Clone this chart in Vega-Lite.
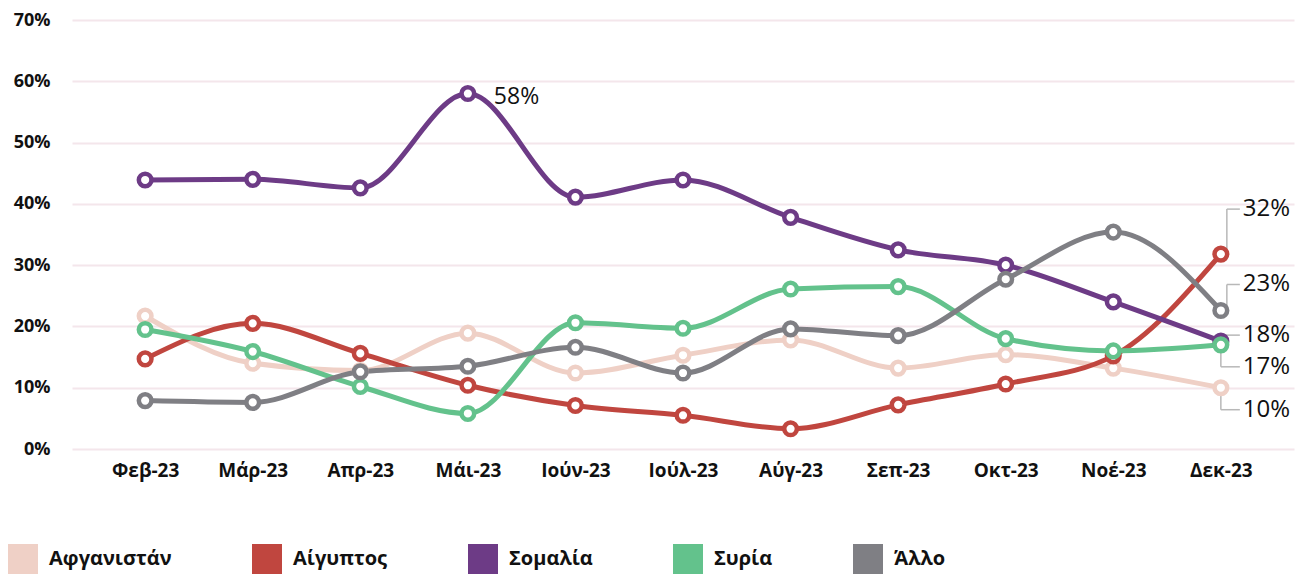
{
  "$schema": "https://vega.github.io/schema/vega-lite/v6.json",
  "width": 1222,
  "height": 429,
  "autosize": {"type": "none"},
  "padding": {"left": 72, "top": 20, "right": 12, "bottom": 125},
  "background": "white",
  "config": {
    "font": "Open Sans",
    "view": {"stroke": null}
  },
  "data": {
    "values": [
      {"month": "Φεβ-23", "series": "Αφγανιστάν", "value": 0.217},
      {"month": "Μάρ-23", "series": "Αφγανιστάν", "value": 0.140},
      {"month": "Απρ-23", "series": "Αφγανιστάν", "value": 0.128},
      {"month": "Μάι-23", "series": "Αφγανιστάν", "value": 0.189},
      {"month": "Ιούν-23", "series": "Αφγανιστάν", "value": 0.124},
      {"month": "Ιούλ-23", "series": "Αφγανιστάν", "value": 0.153},
      {"month": "Αύγ-23", "series": "Αφγανιστάν", "value": 0.178},
      {"month": "Σεπ-23", "series": "Αφγανιστάν", "value": 0.132},
      {"month": "Οκτ-23", "series": "Αφγανιστάν", "value": 0.154},
      {"month": "Νοέ-23", "series": "Αφγανιστάν", "value": 0.132},
      {"month": "Δεκ-23", "series": "Αφγανιστάν", "value": 0.100},
      {"month": "Φεβ-23", "series": "Αίγυπτος", "value": 0.147},
      {"month": "Μάρ-23", "series": "Αίγυπτος", "value": 0.205},
      {"month": "Απρ-23", "series": "Αίγυπτος", "value": 0.156},
      {"month": "Μάι-23", "series": "Αίγυπτος", "value": 0.104},
      {"month": "Ιούν-23", "series": "Αίγυπτος", "value": 0.071},
      {"month": "Ιούλ-23", "series": "Αίγυπτος", "value": 0.055},
      {"month": "Αύγ-23", "series": "Αίγυπτος", "value": 0.033},
      {"month": "Σεπ-23", "series": "Αίγυπτος", "value": 0.072},
      {"month": "Οκτ-23", "series": "Αίγυπτος", "value": 0.106},
      {"month": "Νοέ-23", "series": "Αίγυπτος", "value": 0.152},
      {"month": "Δεκ-23", "series": "Αίγυπτος", "value": 0.318},
      {"month": "Φεβ-23", "series": "Σομαλία", "value": 0.439},
      {"month": "Μάρ-23", "series": "Σομαλία", "value": 0.440},
      {"month": "Απρ-23", "series": "Σομαλία", "value": 0.426},
      {"month": "Μάι-23", "series": "Σομαλία", "value": 0.580},
      {"month": "Ιούν-23", "series": "Σομαλία", "value": 0.411},
      {"month": "Ιούλ-23", "series": "Σομαλία", "value": 0.439},
      {"month": "Αύγ-23", "series": "Σομαλία", "value": 0.378},
      {"month": "Σεπ-23", "series": "Σομαλία", "value": 0.325},
      {"month": "Οκτ-23", "series": "Σομαλία", "value": 0.300},
      {"month": "Νοέ-23", "series": "Σομαλία", "value": 0.240},
      {"month": "Δεκ-23", "series": "Σομαλία", "value": 0.176},
      {"month": "Φεβ-23", "series": "Συρία", "value": 0.195},
      {"month": "Μάρ-23", "series": "Συρία", "value": 0.159},
      {"month": "Απρ-23", "series": "Συρία", "value": 0.102},
      {"month": "Μάι-23", "series": "Συρία", "value": 0.058},
      {"month": "Ιούν-23", "series": "Συρία", "value": 0.206},
      {"month": "Ιούλ-23", "series": "Συρία", "value": 0.197},
      {"month": "Αύγ-23", "series": "Συρία", "value": 0.261},
      {"month": "Σεπ-23", "series": "Συρία", "value": 0.265},
      {"month": "Οκτ-23", "series": "Συρία", "value": 0.180},
      {"month": "Νοέ-23", "series": "Συρία", "value": 0.160},
      {"month": "Δεκ-23", "series": "Συρία", "value": 0.170},
      {"month": "Φεβ-23", "series": "Άλλο", "value": 0.079},
      {"month": "Μάρ-23", "series": "Άλλο", "value": 0.076},
      {"month": "Απρ-23", "series": "Άλλο", "value": 0.126},
      {"month": "Μάι-23", "series": "Άλλο", "value": 0.135},
      {"month": "Ιούν-23", "series": "Άλλο", "value": 0.166},
      {"month": "Ιούλ-23", "series": "Άλλο", "value": 0.124},
      {"month": "Αύγ-23", "series": "Άλλο", "value": 0.196},
      {"month": "Σεπ-23", "series": "Άλλο", "value": 0.185},
      {"month": "Οκτ-23", "series": "Άλλο", "value": 0.277},
      {"month": "Νοέ-23", "series": "Άλλο", "value": 0.354},
      {"month": "Δεκ-23", "series": "Άλλο", "value": 0.226}
    ]
  },
  "encoding": {
    "x": {
      "field": "month",
      "type": "ordinal",
      "sort": ["Φεβ-23", "Μάρ-23", "Απρ-23", "Μάι-23", "Ιούν-23", "Ιούλ-23", "Αύγ-23", "Σεπ-23", "Οκτ-23", "Νοέ-23", "Δεκ-23"],
      "scale": {"type": "point", "padding": 0.68},
      "axis": {
        "title": null,
        "domain": false,
        "ticks": false,
        "labelAngle": 0,
        "labelFont": "Open Sans",
        "labelFontWeight": "bold",
        "labelFontSize": 19,
        "labelColor": "#111111",
        "labelPadding": 12
      }
    },
    "y": {
      "field": "value",
      "type": "quantitative",
      "scale": {"domain": [0, 0.7], "nice": false},
      "axis": {
        "title": null,
        "format": ".0%",
        "values": [0, 0.1, 0.2, 0.3, 0.4, 0.5, 0.6, 0.7],
        "domain": false,
        "ticks": false,
        "grid": true,
        "gridColor": "#f4e6eb",
        "gridWidth": 2,
        "labelFont": "Open Sans",
        "labelFontWeight": "bold",
        "labelFontSize": 18,
        "labelColor": "#111111",
        "labelPadding": 22
      }
    }
  },
  "layer": [
    {
      "transform": [{"filter": "datum.month === 'Δεκ-23' && datum.series === 'Αίγυπτος'"}],
      "layer": [
        {"mark": {"type": "rule", "color": "#b8b8b8", "strokeWidth": 1.5, "xOffset": 6, "y2Offset": -45}, "encoding": {"y2": {"field": "value"}}},
        {"mark": {"type": "rule", "color": "#b8b8b8", "strokeWidth": 1.5, "xOffset": 6, "x2Offset": 19, "yOffset": -45}, "encoding": {"x2": {"field": "month"}}},
        {"mark": {"type": "text", "align": "left", "baseline": "middle", "dx": 22, "dy": -45, "fontSize": 24, "font": "Open Sans", "color": "#111111"}, "encoding": {"text": {"field": "value", "type": "quantitative", "format": ".0%"}}}
      ]
    },
    {
      "transform": [{"filter": "datum.month === 'Δεκ-23' && datum.series === 'Άλλο'"}],
      "layer": [
        {"mark": {"type": "rule", "color": "#b8b8b8", "strokeWidth": 1.5, "xOffset": 6, "y2Offset": -26}, "encoding": {"y2": {"field": "value"}}},
        {"mark": {"type": "rule", "color": "#b8b8b8", "strokeWidth": 1.5, "xOffset": 6, "x2Offset": 19, "yOffset": -26}, "encoding": {"x2": {"field": "month"}}},
        {"mark": {"type": "text", "align": "left", "baseline": "middle", "dx": 22, "dy": -26, "fontSize": 24, "font": "Open Sans", "color": "#111111"}, "encoding": {"text": {"field": "value", "type": "quantitative", "format": ".0%"}}}
      ]
    },
    {
      "transform": [{"filter": "datum.month === 'Δεκ-23' && datum.series === 'Σομαλία'"}],
      "layer": [
        {"mark": {"type": "rule", "color": "#b8b8b8", "strokeWidth": 1.5, "x2Offset": 19, "yOffset": -6}, "encoding": {"x2": {"field": "month"}}},
        {"mark": {"type": "text", "align": "left", "baseline": "middle", "dx": 22, "dy": -6, "fontSize": 24, "font": "Open Sans", "color": "#111111"}, "encoding": {"text": {"field": "value", "type": "quantitative", "format": ".0%"}}}
      ]
    },
    {
      "transform": [{"filter": "datum.month === 'Δεκ-23' && datum.series === 'Συρία'"}],
      "layer": [
        {"mark": {"type": "rule", "color": "#b8b8b8", "strokeWidth": 1.5, "xOffset": 0, "y2Offset": 22}, "encoding": {"y2": {"field": "value"}}},
        {"mark": {"type": "rule", "color": "#b8b8b8", "strokeWidth": 1.5, "xOffset": 0, "x2Offset": 19, "yOffset": 22}, "encoding": {"x2": {"field": "month"}}},
        {"mark": {"type": "text", "align": "left", "baseline": "middle", "dx": 22, "dy": 22, "fontSize": 24, "font": "Open Sans", "color": "#111111"}, "encoding": {"text": {"field": "value", "type": "quantitative", "format": ".0%"}}}
      ]
    },
    {
      "transform": [{"filter": "datum.month === 'Δεκ-23' && datum.series === 'Αφγανιστάν'"}],
      "layer": [
        {"mark": {"type": "rule", "color": "#b8b8b8", "strokeWidth": 1.5, "xOffset": 0, "y2Offset": 22}, "encoding": {"y2": {"field": "value"}}},
        {"mark": {"type": "rule", "color": "#b8b8b8", "strokeWidth": 1.5, "xOffset": 0, "x2Offset": 19, "yOffset": 22}, "encoding": {"x2": {"field": "month"}}},
        {"mark": {"type": "text", "align": "left", "baseline": "middle", "dx": 22, "dy": 22, "fontSize": 24, "font": "Open Sans", "color": "#111111"}, "encoding": {"text": {"field": "value", "type": "quantitative", "format": ".0%"}}}
      ]
    },
    {
      "mark": {"type": "line", "interpolate": "monotone", "strokeWidth": 5},
      "encoding": {
        "color": {
          "field": "series",
          "type": "nominal",
          "scale": {
            "domain": ["Αφγανιστάν", "Αίγυπτος", "Σομαλία", "Συρία", "Άλλο"],
            "range": ["#efd0c6", "#c0463f", "#6d3b86", "#63c28c", "#7f7f84"]
          },
          "legend": {
            "title": null,
            "orient": "none",
            "direction": "horizontal",
            "legendX": -64,
            "legendY": 524,
            "symbolType": "square",
            "symbolSize": 900,
            "symbolStrokeWidth": 0,
            "labelFont": "Open Sans",
            "labelFontWeight": "bold",
            "labelFontSize": 20,
            "labelColor": "#111111",
            "labelOffset": 11,
            "columnPadding": 80,
            "labelLimit": 300,
            "encode": {
              "symbols": {"update": {"fill": {"scale": "color", "field": "value"}, "opacity": {"value": 1}, "strokeWidth": {"value": 0}}}
            }
          }
        },
        "detail": {"field": "series"}
      }
    },
    {
      "mark": {"type": "point", "filled": false, "fill": "white", "fillOpacity": 1, "opacity": 1, "size": 160, "strokeWidth": 4.5},
      "encoding": {
        "color": {"field": "series", "type": "nominal", "legend": null}
      }
    },
    {
      "transform": [{"filter": "datum.month === 'Μάι-23' && datum.series === 'Σομαλία'"}],
      "mark": {"type": "text", "align": "left", "baseline": "middle", "dx": 26, "dy": 3, "fontSize": 23, "font": "Open Sans", "color": "#111111"},
      "encoding": {"text": {"field": "value", "type": "quantitative", "format": ".0%"}}
    }
  ]
}
